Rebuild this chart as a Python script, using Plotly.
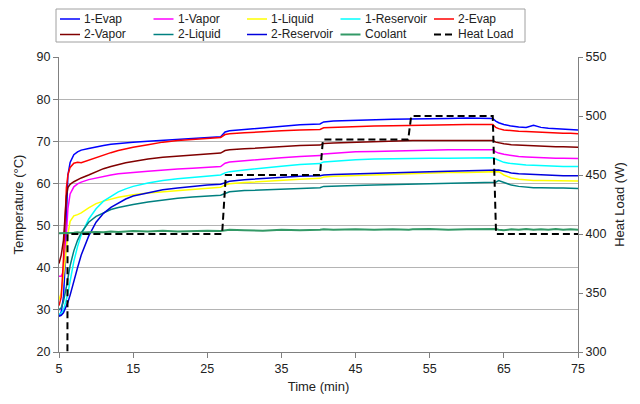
import plotly.graph_objects as go

time_min = [5, 5.3, 5.6, 5.8, 6.0, 6.2, 6.5, 7, 7.5, 8, 9, 10, 11, 12, 13, 14, 15, 17, 19, 21,
            23, 25, 26.8, 27.4, 28, 30, 32.5, 35, 37.5, 40.2, 40.7, 42, 45, 47.5, 50, 52.2, 52.7, 55, 57.5, 60,
            62, 63.5, 63.9, 64.3, 65, 66, 67, 68, 69, 70, 71, 72, 73, 74, 75]

evap1 = [28.5, 29.5, 33, 40, 52, 62, 65, 66.8, 67.5, 67.9, 68.3, 68.7, 69.0, 69.3, 69.5, 69.7, 69.8, 70.0, 70.2, 70.4,
         70.6, 70.8, 71.1, 72.2, 72.5, 72.8, 73.2, 73.6, 73.9, 74.1, 74.6, 74.8, 75.0, 75.1, 75.2, 75.3, 75.3, 75.3, 75.4, 75.5,
         75.5, 75.4, 74.8, 74.4, 74.0, 73.6, 73.4, 73.3, 73.8, 73.3, 73.1, 73.0, 72.9, 72.8, 72.7]
vapor1 = [38, 38, 39, 42, 48, 54, 57.5, 59.2, 59.9, 60.3, 60.9, 61.3, 61.7, 62.0, 62.3, 62.5, 62.6, 62.9, 63.2, 63.4,
          63.6, 63.8, 64.0, 64.8, 65.1, 65.4, 65.8, 66.1, 66.4, 66.6, 67.0, 67.2, 67.5, 67.6, 67.7, 67.8, 67.9, 67.9, 68.0, 68.0,
          68.0, 68.0, 67.5, 67.2, 66.9, 66.6, 66.4, 66.3, 66.2, 66.1, 66.1, 66.0, 66.0, 65.9, 65.9]
liquid1 = [32.4, 34, 38, 41.5, 45, 48, 51, 52.3, 52.6, 53, 54.2, 55.2, 55.8, 56.3, 56.7, 57.0, 57.3, 57.7, 58.0, 58.3,
           58.6, 58.9, 59.1, 59.6, 59.9, 60.2, 60.5, 60.8, 61.0, 61.2, 61.5, 61.7, 61.9, 62.1, 62.2, 62.3, 62.4, 62.5, 62.6, 62.6,
           62.7, 62.7, 62.7, 62.8, 62.0, 61.3, 61.0, 60.8, 60.7, 60.7, 60.7, 60.7, 60.6, 60.6, 60.6]
reservoir1 = [29, 29.2, 30, 31, 32.5, 34, 37, 41.5, 45, 47.8, 51.5, 54, 55.8, 57, 58, 58.7, 59.3, 60.1, 60.7, 61.1,
              61.4, 61.7, 62.0, 62.5, 62.8, 63.2, 63.7, 64.1, 64.5, 64.7, 65.1, 65.3, 65.6, 65.8, 65.9, 66.0, 66.0, 66.0, 66.0, 66.1,
              66.1, 66.1, 65.8, 65.5, 65.0, 64.7, 64.5, 64.4, 64.3, 64.2, 64.1, 64.1, 64.0, 64.0, 64.0]
evap2 = [31, 33, 42, 52, 59, 62, 63.8, 64.8, 65.0, 64.9, 65.5, 66.2, 66.8, 67.3, 67.8, 68.2, 68.6, 69.2, 69.8, 70.2,
         70.5, 70.7, 70.9, 71.6, 71.8, 72.0, 72.3, 72.5, 72.7, 72.8, 73.2, 73.3, 73.5, 73.6, 73.7, 73.8, 73.8, 73.9, 73.9, 74.0,
         74.0, 74.0, 73.3, 73.0, 72.7, 72.5, 72.4, 72.3, 72.2, 72.1, 72.0, 72.0, 71.9, 71.9, 71.8]
vapor2 = [41, 43, 46.5, 52, 57, 59, 59.8, 60.4, 60.9, 61.3, 62.0, 62.8, 63.5, 64.0, 64.5, 64.9, 65.2, 65.8, 66.2, 66.5,
          66.8, 67.0, 67.2, 67.8, 68.0, 68.2, 68.5, 68.8, 69.0, 69.1, 69.5, 69.6, 69.8, 69.9, 70.0, 70.1, 70.2, 70.2, 70.2, 70.2,
          70.2, 70.2, 69.8, 69.6, 69.4, 69.2, 69.1, 69.0, 68.9, 68.8, 68.8, 68.7, 68.7, 68.6, 68.6]
liquid2 = [30, 30.5, 32, 33.5, 35.5, 37.5, 40.5, 44, 46.5, 48.3, 50.8, 52.2, 53.1, 53.8, 54.3, 54.7, 55.0, 55.6, 56.1, 56.5,
           56.8, 57.0, 57.2, 57.6, 58.0, 58.3, 58.5, 58.7, 58.9, 59.0, 59.3, 59.4, 59.5, 59.6, 59.7, 59.8, 59.9, 60.0, 60.0, 60.1,
           60.2, 60.2, 60.3, 60.7, 60.3, 59.6, 59.3, 59.1, 59.0, 59.0, 58.9, 58.9, 58.9, 58.8, 58.8]
reservoir2 = [28.5, 28.7, 29.3, 30, 30.8, 31.8, 33.5, 37, 40, 43, 47.5, 50.8, 52.9, 54.3, 55.4, 56.3, 57.0, 57.8, 58.5, 58.9,
              59.3, 59.6, 59.8, 60.2, 60.5, 60.9, 61.2, 61.5, 61.7, 61.8, 62.0, 62.1, 62.3, 62.4, 62.5, 62.6, 62.7, 62.8, 62.9, 63.0,
              63.0, 63.0, 63.1, 63.2, 62.9, 62.5, 62.3, 62.2, 62.1, 62.0, 61.9, 61.9, 61.8, 61.8, 61.8]
coolant = [48.2, 48.2, 48.3, 48.3, 48.3, 48.3, 48.3, 48.3, 48.4, 48.3, 48.4, 48.5, 48.4, 48.6, 48.5, 48.6, 48.7, 48.6, 48.8, 48.6,
           48.7, 48.8, 48.7, 48.9, 49.0, 48.9, 48.8, 49.0, 48.9, 49.0, 49.1, 49.0, 49.1, 49.0, 49.1, 49.0, 49.1, 49.2, 49.0, 49.1,
           49.1, 49.1, 49.2, 49.0, 48.9, 49.1, 49.0, 49.2, 49.0, 49.1, 49.0, 49.2, 49.0, 49.1, 49.0]

hl_time = [5, 6.1, 6.15, 27.0, 27.5, 40.2, 40.6, 52.1, 52.5, 63.5, 63.95, 75]
hl_watts = [0, 0, 400, 400, 450, 450, 480, 480, 500, 500, 400, 400]

series = [
    ("1-Evap", evap1, "#0000FF", 1.5),
    ("1-Vapor", vapor1, "#FF00FF", 1.5),
    ("1-Liquid", liquid1, "#FFFF00", 1.5),
    ("1-Reservoir", reservoir1, "#00FFFF", 1.5),
    ("2-Evap", evap2, "#FF0000", 1.5),
    ("2-Vapor", vapor2, "#800000", 1.5),
    ("2-Liquid", liquid2, "#008080", 1.5),
    ("2-Reservoir", reservoir2, "#0000DD", 1.5),
    ("Coolant", coolant, "#339966", 2),
]
HL_DASH = "7px,4px"

fig = go.Figure()
for name, vals, color, w in series:
    fig.add_trace(go.Scatter(x=time_min, y=vals, name=name, mode="lines",
                             line=dict(color=color, width=w)))
fig.add_trace(go.Scatter(x=hl_time, y=hl_watts, name="Heat Load", mode="lines", yaxis="y2",
                         line=dict(color="black", width=2, dash=HL_DASH)))

# ---- layout geometry (pixels) ----
W, H = 640, 404
L, R, T, B = 59, 62, 57, 52
PW, PH = W - L - R, H - T - B


def px(xp):
    return (xp - L) / PW


def py(yp):
    return (H - B - yp) / PH


# custom legend (box with 2 rows x 5 columns)
shapes = [dict(type="rect", xref="paper", yref="paper",
               x0=px(56), x1=px(525), y0=py(42), y1=py(9),
               line=dict(color="#a0a0a0", width=1), fillcolor="white", layer="above")]
annotations = []
legend_items = [(s[0], s[2], s[3], "solid") for s in series] + [("Heat Load", "black", 2, HL_DASH)]
col_x = [60, 153.5, 247, 340.5, 434]
row_y = [19, 34.5]
for i, (name, color, w, dash) in enumerate(legend_items):
    r, c = divmod(i, 5)
    x0 = col_x[c]
    y0 = row_y[r]
    shapes.append(dict(type="line", xref="paper", yref="paper",
                       x0=px(x0), x1=px(x0 + 20), y0=py(y0), y1=py(y0),
                       line=dict(color=color, width=w, dash=dash), layer="above"))
    annotations.append(dict(text=name, xref="paper", yref="paper", x=px(x0 + 22), y=py(y0),
                            xanchor="left", yanchor="middle", showarrow=False,
                            font=dict(size=12, color="#222")))

font_family = "Liberation Sans, Arial, sans-serif"
axis_color = "#808080"

fig.update_layout(
    width=W, height=H,
    margin=dict(l=L, r=R, t=T, b=B, autoexpand=False),
    paper_bgcolor="white", plot_bgcolor="white",
    font=dict(family=font_family, size=12.5, color="#222"),
    showlegend=False,
    shapes=shapes, annotations=annotations,
    xaxis=dict(range=[5, 75], tick0=5, dtick=10, ticks="outside", ticklen=5,
               tickcolor=axis_color, showline=True, linecolor=axis_color, linewidth=1,
               showgrid=False, zeroline=False,
               title=dict(text="Time (min)", font=dict(size=13), standoff=6)),
    yaxis=dict(range=[20, 90], dtick=10, ticks="outside", ticklen=5, tickcolor=axis_color,
               showline=True, linecolor=axis_color, linewidth=1,
               showgrid=True, gridcolor="#b4b4b4", gridwidth=1, zeroline=False,
               title=dict(text="Temperature (°C)", font=dict(size=13), standoff=10)),
    yaxis2=dict(range=[300, 550], dtick=50, overlaying="y", side="right",
                ticks="outside", ticklen=4, tickcolor=axis_color,
                showline=True, linecolor=axis_color, linewidth=1,
                showgrid=False, zeroline=False,
                title=dict(text="Heat Load (W)", font=dict(size=13), standoff=9)),
    yaxis3=dict(range=[300, 550], dtick=50, overlaying="y", side="right", anchor="x",
                ticks="inside", ticklen=4, tickcolor=axis_color, showticklabels=False,
                showline=False, showgrid=False, zeroline=False),
)

fig.write_html("out.html", config={"displayModeBar": False},
               post_script="document.body.style.margin='0';")
